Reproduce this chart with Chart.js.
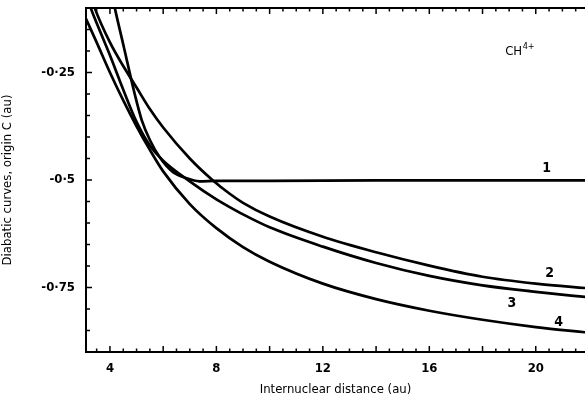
<!DOCTYPE html>
<html>
<head>
<meta charset="utf-8">
<script src="https://cdn.jsdelivr.net/npm/chart.js@4"></script>
<style>
    body { margin: 0; background: #fff; }
    #wrap { width: 585px; height: 400px; }
</style>
</head>
<body>
<div id="wrap"><canvas id="diabatic" width="585" height="400"></canvas></div>
<script>
// Diabatic curves for CH4+ (origin C)

const xTickValues = [4, 8, 12, 16, 20];
const yTickValues = [-0.25, -0.5, -0.75];

// curve 1 - steep wall, then flat at -0.5
const curve1R = [4.05, 4.19, 4.5, 4.93, 5.2, 5.5, 5.87, 6.36, 6.88, 7.36, 8, 10, 14, 18, 22];
const curve1E = [-0.06, -0.102, -0.185, -0.3, -0.362, -0.407, -0.447, -0.481, -0.496, -0.503, -0.502, -0.502, -0.501, -0.501, -0.501];

// curve 2
const curve2R = [3.3, 3.44, 4, 4.5, 5, 5.5, 6, 7, 7.85, 8.5, 9, 10, 12, 14, 16, 18, 20, 22];
const curve2E = [-0.075, -0.102, -0.18, -0.235, -0.285, -0.335, -0.378, -0.45, -0.5, -0.532, -0.553, -0.585, -0.632, -0.668, -0.699, -0.725, -0.741, -0.752];

// curve 3
const curve3R = [3.2, 3.29, 3.5, 4, 4.5, 5, 5.5, 6, 7, 8, 8.5, 9, 10, 12, 14, 16, 18, 20, 22];
const curve3E = [-0.085, -0.102, -0.135, -0.21, -0.29, -0.365, -0.42, -0.455, -0.503, -0.545, -0.563, -0.58, -0.61, -0.655, -0.693, -0.723, -0.745, -0.76, -0.773];

// curve 4
const curve4R = [3.1, 3.5, 4, 4.5, 5, 5.5, 6, 7, 8, 9, 10, 12, 14, 16, 18, 20, 22];
const curve4E = [-0.125, -0.18, -0.25, -0.315, -0.375, -0.43, -0.48, -0.556, -0.612, -0.656, -0.69, -0.741, -0.777, -0.804, -0.825, -0.842, -0.855];

const curveLabels = [
    { text: '1', x: 20.41, y: -0.472 },
    { text: '2', x: 20.52, y: -0.716 },
    { text: '3', x: 19.1, y: -0.788 },
    { text: '4', x: 20.86, y: -0.83 }
];

const FONT = "'Liberation Sans Narrow', 'DejaVu Sans Condensed', 'Liberation Sans', sans-serif";
const INK = '#000';

function toPoints(xs, ys) {
    return xs.map((x, i) => ({ x: x, y: ys[i] }));
}

function curve(label, xs, ys) {
    return {
        label: label,
        data: toPoints(xs, ys),
        borderColor: INK,
        borderWidth: 2.7,
        pointRadius: 0,
        fill: false,
        cubicInterpolationMode: 'monotone',
        clip: 0
    };
}

// Draws the top border, the inward-pointing ticks and the text labels
const frameAndLabels = {
    id: 'frameAndLabels',
    afterDraw(chart) {
        const ctx = chart.ctx;
        const area = chart.chartArea;
        const xs = chart.scales.x;
        const ys = chart.scales.y;

        ctx.save();
        ctx.strokeStyle = INK;
        ctx.lineWidth = 2;
        ctx.beginPath();
        ctx.moveTo(area.left, area.top);
        ctx.lineTo(area.right, area.top);
        ctx.stroke();

        ctx.lineWidth = 1.5;
        ctx.beginPath();
        // x ticks every 0.5, longer every 2
        for (let k = 7; k * 0.5 <= xs.max; k++) {
            const v = k * 0.5;
            const px = xs.getPixelForValue(v);
            const len = (k % 4 === 0) ? 6 : 3.5;
            ctx.moveTo(px, area.bottom);
            ctx.lineTo(px, area.bottom - len);
            ctx.moveTo(px, area.top);
            ctx.lineTo(px, area.top + len);
        }
        // y ticks every 0.05, longer at labelled values
        for (let k = 3; k <= 17; k++) {
            const v = -k * 0.05;
            const py = ys.getPixelForValue(v);
            const len = (k % 5 === 0) ? 6 : 4;
            ctx.moveTo(area.left, py);
            ctx.lineTo(area.left + len, py);
        }
        ctx.stroke();

        ctx.fillStyle = INK;
        ctx.font = 'bold 14px ' + FONT;
        ctx.textAlign = 'center';
        ctx.textBaseline = 'middle';
        curveLabels.forEach(l => {
            ctx.fillText(l.text, xs.getPixelForValue(l.x), ys.getPixelForValue(l.y));
        });

        // molecule label
        const cx = xs.getPixelForValue(19.17);
        const cy = ys.getPixelForValue(-0.202);
        ctx.font = '13px ' + FONT;
        ctx.fillText('CH', cx, cy);
        ctx.font = '9px ' + FONT;
        ctx.textAlign = 'left';
        ctx.fillText('4+', cx + 9, cy - 5);
        ctx.restore();
    }
};

new Chart(document.getElementById('diabatic'), {
    type: 'line',
    data: {
        datasets: [
            curve('1', curve1R, curve1E),
            curve('2', curve2R, curve2E),
            curve('3', curve3R, curve3E),
            curve('4', curve4R, curve4E)
        ]
    },
    options: {
        responsive: false,
        animation: false,
        layout: { autoPadding: false, padding: { top: 8, right: 0, bottom: 0, left: 0 } },
        plugins: {
            legend: { display: false },
            tooltip: { enabled: false }
        },
        scales: {
            x: {
                type: 'linear',
                min: 3.1,
                max: 21.85,
                afterBuildTicks: function(scale) {
                    scale.ticks = xTickValues.map(v => ({ value: v }));
                },
                afterFit: function(scale) {
                    scale.height = 48;
                    scale.paddingLeft = 0;
                    scale.paddingRight = 0;
                },
                ticks: {
                    autoSkip: false,
                    maxRotation: 0,
                    padding: 9,
                    color: INK,
                    font: { family: FONT, size: 13, weight: 'bold' },
                    callback: function(value) {
                        return String(value);
                    }
                },
                grid: { display: false, drawTicks: false },
                border: { display: true, color: INK, width: 2 },
                title: {
                    display: true,
                    text: 'Internuclear distance (au)',
                    color: INK,
                    font: { family: FONT, size: 13 },
                    padding: { top: 0, bottom: 3 }
                }
            },
            y: {
                type: 'linear',
                min: -0.9,
                max: -0.1,
                afterBuildTicks: function(scale) {
                    scale.ticks = yTickValues.map(v => ({ value: v }));
                },
                afterFit: function(scale) {
                    scale.width = 86;
                    scale.paddingTop = 0;
                    scale.paddingBottom = 0;
                },
                ticks: {
                    autoSkip: false,
                    padding: 11,
                    color: INK,
                    font: { family: FONT, size: 13, weight: 'bold' },
                    callback: function(value) {
                        return String(value).replace('.', '\u00b7');
                    }
                },
                grid: { display: false, drawTicks: false },
                border: { display: true, color: INK, width: 2 },
                title: {
                    display: true,
                    text: 'Diabatic curves, origin C (au)',
                    color: INK,
                    font: { family: FONT, size: 13 },
                    padding: { top: 0, bottom: 4 }
                }
            }
        }
    },
    plugins: [frameAndLabels]
});
</script>
</body>
</html>
